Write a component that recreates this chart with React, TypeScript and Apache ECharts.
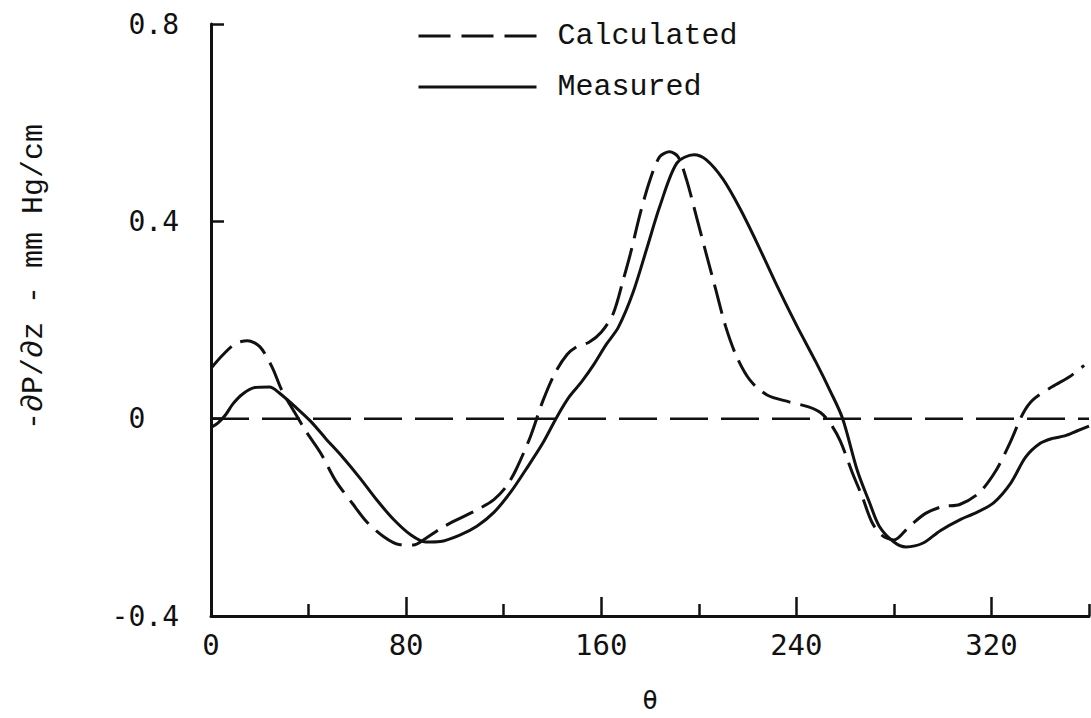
import React, { useEffect, useRef } from "react";
import * as echarts from "echarts";

// Angular position (degrees) and pressure gradient, measured curve
const measuredTheta = [0, 3, 6, 9, 13, 18, 24, 28, 35, 41, 47, 54, 61, 68, 75, 82, 88, 94, 102, 109, 116, 123, 129, 136, 142, 147, 152, 157, 162, 167, 173, 179, 184, 191, 198, 203, 210, 217, 224, 232, 240, 248, 254, 259, 265, 270, 274, 280, 285, 292, 299, 307, 314, 321, 328, 334, 340, 345, 350, 355, 360];
const measuredValues = [-0.018, -0.008, 0.008, 0.03, 0.05, 0.063, 0.064, 0.052, 0.022, -0.006, -0.04, -0.078, -0.12, -0.165, -0.205, -0.236, -0.25, -0.249, -0.236, -0.218, -0.19, -0.148, -0.104, -0.05, 0.005, 0.045, 0.075, 0.11, 0.15, 0.185, 0.255, 0.35, 0.43, 0.518, 0.535, 0.525, 0.485, 0.425, 0.355, 0.27, 0.19, 0.115, 0.055, 0.0, -0.105, -0.17, -0.218, -0.25, -0.26, -0.252, -0.227, -0.205, -0.19, -0.17, -0.13, -0.078, -0.05, -0.04, -0.035, -0.025, -0.015];

// Calculated curve
const calculatedTheta = [0, 5, 10, 15, 20, 25, 29, 34, 39, 45, 51, 58, 64, 71, 77, 83, 88, 95, 102, 109, 116, 121, 125, 131, 136, 141, 146, 150, 155, 160, 165, 169, 172, 176, 180, 184, 188, 191.5, 195, 199, 203, 207, 211, 215.5, 221, 228, 237, 245, 250, 254, 258, 263, 267, 271, 275, 280, 286, 293, 300, 307, 315, 322, 327.5, 333, 337, 345, 352, 358];
const calculatedValues = [0.102, 0.13, 0.152, 0.158, 0.146, 0.105, 0.058, 0.015, -0.026, -0.07, -0.125, -0.172, -0.21, -0.24, -0.255, -0.256, -0.243, -0.22, -0.202, -0.185, -0.164, -0.138, -0.104, -0.036, 0.035, 0.092, 0.13, 0.146, 0.155, 0.175, 0.214, 0.281, 0.335, 0.416, 0.484, 0.531, 0.541, 0.531, 0.484, 0.41, 0.335, 0.261, 0.187, 0.126, 0.078, 0.048, 0.034, 0.024, 0.012, -0.01, -0.045, -0.11, -0.158, -0.21, -0.236, -0.246, -0.22, -0.192, -0.178, -0.174, -0.15, -0.104, -0.05, 0.011, 0.038, 0.065, 0.085, 0.108];

// Reference line at zero
const zeroTheta = [0, 360];
const zeroValues = [0, 0];

const majorTicks = [0, 80, 160, 240, 320];
const majorTickMarks = [80, 160, 240, 320];
const minorTicks = [40, 120, 200, 280, 360];
const yTicks = [-0.4, 0, 0.4, 0.8];

const INK = "#111";
const MONO = "'DejaVu Sans Mono', monospace";
const TYPE = "'Liberation Mono', 'Courier New', monospace";

const pairs = (xs: number[], ys: number[]) => xs.map((x, i) => [x, ys[i]]);

export default function App() {
  const ref = useRef<HTMLDivElement>(null);

  useEffect(() => {
    if (!ref.current) return;
    const chart = echarts.init(ref.current, null, { renderer: "svg" });
    chart.setOption({
      animation: false,
      backgroundColor: "#fff",
      grid: { left: 211, right: 2, top: 24, bottom: 102, containLabel: false },
      legend: {
        orient: "vertical",
        left: 412,
        top: 16,
        itemWidth: 118,
        itemHeight: 30,
        itemGap: 21,
        itemStyle: { opacity: 0, color: "rgba(0,0,0,0)", borderWidth: 0 },
        data: [
          { name: "Calculated", lineStyle: { type: [32, 11], width: 3, color: INK, cap: "butt" } },
          { name: "Measured", lineStyle: { type: "solid", width: 3, color: INK } },
        ],
        textStyle: {
          fontFamily: TYPE,
          fontSize: 30,
          color: INK,
          padding: [0, 0, 0, 16],
        },
      },
      xAxis: [
        {
          type: "value",
          min: 0,
          max: 360,
          interval: 80,
          name: "θ",
          nameLocation: "middle",
          nameGap: 84,
          nameTextStyle: { fontFamily: MONO, fontSize: 26, color: INK, verticalAlign: "middle" },
          axisLine: { show: true, onZero: false, lineStyle: { color: INK, width: 3 } },
          axisTick: { show: true, inside: true, length: 19, lineStyle: { color: INK, width: 2.5 }, customValues: majorTickMarks },
          axisLabel: { show: true, margin: 14, fontFamily: MONO, fontSize: 29, color: INK, customValues: majorTicks },
          splitLine: { show: false },
        },
        {
          type: "value",
          min: 0,
          max: 360,
          position: "bottom",
          axisLine: { show: false, onZero: false },
          axisTick: { show: true, inside: true, length: 12, lineStyle: { color: INK, width: 2.5 }, customValues: minorTicks },
          axisLabel: { show: false },
          splitLine: { show: false },
        },
      ],
      yAxis: {
        type: "value",
        min: -0.4,
        max: 0.8,
        interval: 0.4,
        axisLine: { show: true, onZero: false, lineStyle: { color: INK, width: 3 } },
        axisTick: { show: true, inside: true, length: 13, lineStyle: { color: INK, width: 2.5 }, customValues: yTicks },
        axisLabel: {
          margin: 32,
          fontFamily: MONO,
          fontSize: 28,
          color: INK,
          formatter: (v: number) => (Math.abs(v) < 1e-9 ? "0\u00a0\u00a0" : v.toFixed(1)),
        },
        splitLine: { show: false },
      },
      graphic: [
        {
          type: "text",
          x: 34,
          y: 277,
          rotation: Math.PI / 2,
          style: {
            text: "-∂P/∂z - mm Hg/cm",
            fontFamily: TYPE,
            fontSize: 30,
            fill: INK,
            align: "center",
            verticalAlign: "middle",
          },
        },
      ],
      series: [
        {
          name: "Zero",
          type: "line",
          data: pairs(zeroTheta, zeroValues),
          symbol: "none",
          silent: true,
          lineStyle: { color: INK, width: 2.5, type: [38, 13], cap: "butt" },
        },
        {
          name: "Calculated",
          type: "line",
          data: pairs(calculatedTheta, calculatedValues),
          symbol: "none",
          smooth: 0.3,
          lineStyle: { color: INK, width: 3, type: [30, 10], cap: "butt" },
          itemStyle: { color: INK },
        },
        {
          name: "Measured",
          type: "line",
          data: pairs(measuredTheta, measuredValues),
          symbol: "none",
          smooth: 0.3,
          lineStyle: { color: INK, width: 3 },
          itemStyle: { color: INK },
        },
      ],
    });
    return () => chart.dispose();
  }, []);

  return (
    <div
      ref={ref}
      style={{ position: "fixed", left: 0, top: 0, width: 1091, height: 718, background: "#fff" }}
    />
  );
}
